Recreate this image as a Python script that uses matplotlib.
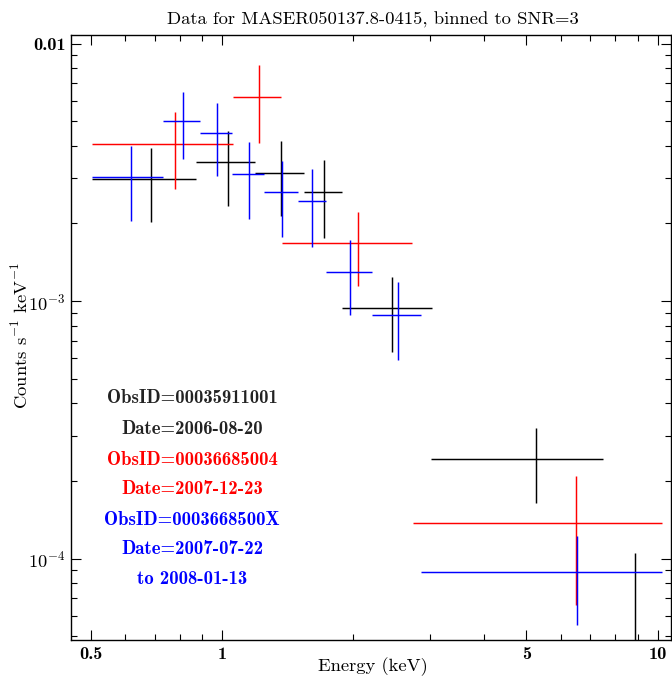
import matplotlib
matplotlib.use("Agg")
import matplotlib.pyplot as plt
from matplotlib.ticker import NullFormatter, FixedLocator
import numpy as np

# ---------------- data ----------------
title_text = "Data for MASER050137.8-0415, binned to SNR=3"
xlabel_text = "Energy (keV)"
ylabel_text = "Counts s$^{-1}$ keV$^{-1}$"

# ObsID 00035911001 (black)
blk_E = [0.686, 1.031, 1.366, 1.712, 2.456, 5.25, 8.87]
blk_dE = [0.184, 0.160, 0.175, 0.171, 0.573, 2.225, 1.39]
blk_y = [2.98e-3, 3.46e-3, 3.15e-3, 2.64e-3, 9.37e-4, 2.43e-4, 4.6e-5]
blk_dy = [0.96e-3, 1.12e-3, 1.02e-3, 0.89e-3, 3.04e-4, 7.9e-5, 5.9e-5]

# ObsID 00036685004 (red)
red_E = [0.780, 1.214, 2.05, 6.48]
red_dE = [0.278, 0.1535, 0.6755, 3.74]
red_y = [4.07e-3, 6.18e-3, 1.68e-3, 1.377e-4]
red_dy = [1.35e-3, 2.07e-3, 0.54e-3, 7.2e-5]

# ObsID 0003668500X (blue)
blu_E = [0.6165, 0.8115, 0.9725, 1.152, 1.3715, 1.611, 1.9715, 2.5345, 6.54]
blu_dE = [0.1145, 0.0785, 0.0805, 0.099, 0.1205, 0.119, 0.2385, 0.3245, 3.68]
blu_y = [3.02e-3, 5.01e-3, 4.48e-3, 3.11e-3, 2.64e-3, 2.44e-3, 1.30e-3, 8.85e-4, 8.86e-5]
blu_dy = [0.98e-3, 1.45e-3, 1.42e-3, 1.03e-3, 0.86e-3, 0.82e-3, 0.42e-3, 2.96e-4, 3.35e-5]

legend_lines = ["ObsID=00035911001", "Date=2006-08-20",
                "ObsID=00036685004", "Date=2007-12-23",
                "ObsID=0003668500X", "Date=2007-07-22", "to 2008-01-13"]
legend_colors = ["#222222", "#222222", "red", "red", "blue", "blue", "blue"]

xmajor = [0.5, 1, 5, 10]
xmajor_labels = ["0.5", "1", "5", "10"]
xminor = [0.6, 0.7, 0.8, 0.9, 2, 3, 4, 6, 7, 8, 9]
ymajor = [1e-4, 1e-3, 1e-2]
ymajor_labels = [r"$\mathbf{10^{-4}}$", r"$\mathbf{10^{-3}}$", "0.01"]
yminor = [k * 10.0 ** n for n in (-5, -4, -3) for k in range(2, 10)]

# ---------------- figure ----------------
plt.rcParams["mathtext.fontset"] = "cm"
plt.rcParams["axes.unicode_minus"] = False

W, H = 672, 678
fig = plt.figure(figsize=(W / 100, H / 100), dpi=100)
L, R, T, B = 71, 671, 35, 640
ax = fig.add_axes([L / W, 1 - B / H, (R - L) / W, (B - T) / H])
ax.set_xscale("log")
ax.set_yscale("log")
ax.set_xlim(0.4500, 10.735)
ax.set_ylim(4.826e-5, 1.079e-2)

kw = dict(fmt="none", elinewidth=1.05, capsize=0)
ax.errorbar(blk_E, blk_y, xerr=blk_dE, yerr=blk_dy, ecolor="black", **kw)
ax.errorbar(red_E, red_y, xerr=red_dE, yerr=red_dy, ecolor="red", **kw)
ax.errorbar(blu_E, blu_y, xerr=blu_dE, yerr=blu_dy, ecolor="blue", **kw)

ax.xaxis.set_major_locator(FixedLocator(xmajor))
ax.set_xticklabels(xmajor_labels)
ax.xaxis.set_minor_locator(FixedLocator(xminor))
ax.xaxis.set_minor_formatter(NullFormatter())
ax.yaxis.set_major_locator(FixedLocator(ymajor))
ax.set_yticklabels(ymajor_labels)
ax.yaxis.set_minor_locator(FixedLocator(yminor))
ax.yaxis.set_minor_formatter(NullFormatter())

ax.tick_params(which="both", direction="in", top=True, right=True, width=0.8)
ax.tick_params(which="major", length=7)
ax.tick_params(which="minor", length=4)
ax.tick_params(axis="x", pad=5)
ax.tick_params(axis="y", pad=4)
for lab in ax.get_xticklabels() + ax.get_yticklabels():
    lab.set_fontfamily("cmb10")
    lab.set_fontsize(13.2)
for s in ax.spines.values():
    s.set_linewidth(1.0)

fig.text(373 / W, 1 - 20 / H, title_text, family="cmr10", fontsize=13.4,
         ha="center", va="center")
fig.text(373 / W, 1 - 667 / H, xlabel_text, family="cmr10", fontsize=13.4,
         ha="center", va="center")
fig.text(20 / W, 1 - 336 / H, ylabel_text, family="cmr10", fontsize=13.4,
         ha="center", va="center", rotation=90)

leg_y = [398, 429, 460, 489, 520, 549, 579]
for t, c, yy in zip(legend_lines, legend_colors, leg_y):
    fig.text(192 / W, 1 - yy / H, t, family="cmb10", fontsize=13.5,
             color=c, ha="center", va="center")

fig.savefig("out.png", dpi=100)
